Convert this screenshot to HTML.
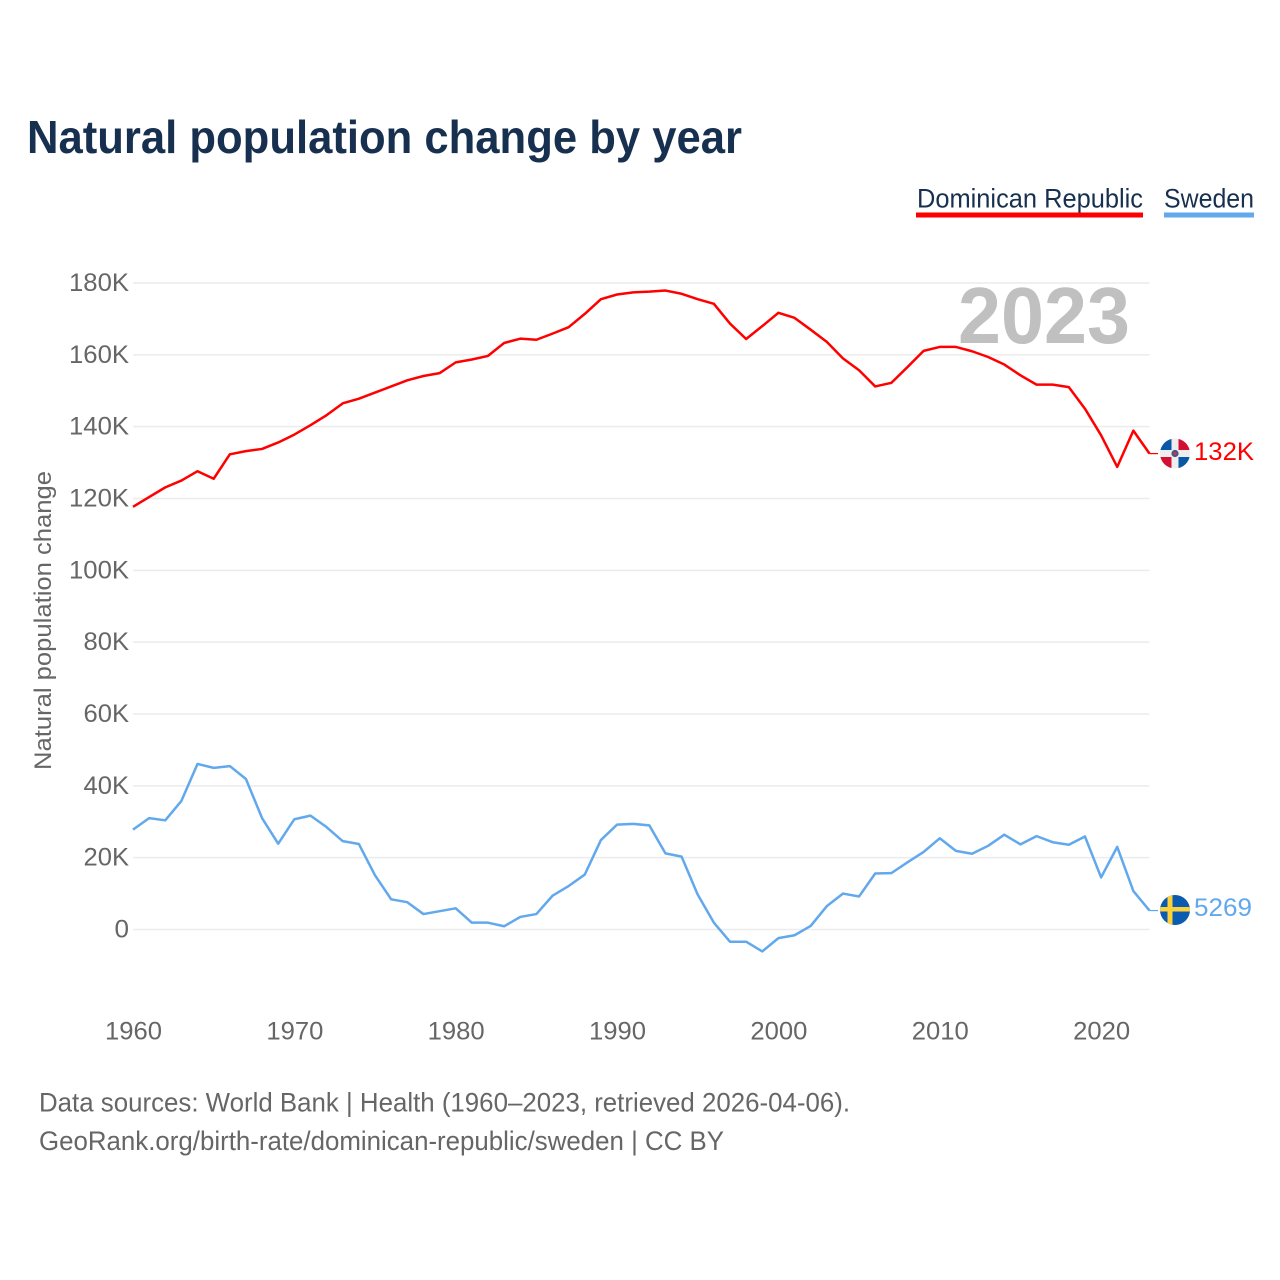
<!DOCTYPE html>
<html lang="en">
<head>
<meta charset="utf-8">
<title>Natural population change by year</title>
<style>
html,body{margin:0;padding:0;background:#fff;width:1280px;height:1280px;overflow:hidden}
svg{display:block}
text{font-family:"Liberation Sans",sans-serif}
</style>
</head>
<body>
<svg id="chart" xmlns="http://www.w3.org/2000/svg" width="1280" height="1280" viewBox="0 0 1280 1280">
  <rect width="1280" height="1280" fill="#fff"/>
  <text x="27" y="153" font-size="46" font-weight="700" fill="#18304f" textLength="715" lengthAdjust="spacingAndGlyphs">Natural population change by year</text>

  <g>
    <text x="917" y="207.5" font-size="27" fill="#18304f" textLength="226" lengthAdjust="spacingAndGlyphs">Dominican Republic</text>
    <rect x="916" y="212.5" width="227" height="5" fill="#ff0000"/>
  </g>
  <g>
    <text x="1164" y="207.5" font-size="27" fill="#18304f" textLength="90" lengthAdjust="spacingAndGlyphs">Sweden</text>
    <rect x="1164" y="212.5" width="90" height="5" fill="#62a8ed"/>
  </g>

  <g id="grid"></g>
  <g id="yticks"></g>
  <g id="xticks"></g>

  <text x="1044" y="343" font-size="80" font-weight="700" fill="#c0c0c0" text-anchor="middle" textLength="172" lengthAdjust="spacingAndGlyphs">2023</text>

  <text transform="translate(51,770) rotate(-90)" x="0" y="0" font-size="24.5" fill="#666" textLength="299" lengthAdjust="spacingAndGlyphs">Natural population change</text>

  <g id="series"></g>

  <defs>
    <clipPath id="flag-clip-do"><circle cx="1175" cy="453.5" r="15"/></clipPath>
    <clipPath id="flag-clip-se"><circle cx="1175" cy="910" r="15"/></clipPath>
  </defs>
  <g clip-path="url(#flag-clip-do)">
    <rect x="1160" y="438.5" width="30" height="30" fill="#eeeeee"/>
    <rect x="1160" y="438.5" width="11.5" height="11.5" fill="#0a57a8"/>
    <rect x="1178.5" y="438.5" width="11.5" height="11.5" fill="#d21034"/>
    <rect x="1160" y="457" width="11.5" height="11.5" fill="#d21034"/>
    <rect x="1178.5" y="457" width="11.5" height="11.5" fill="#0a57a8"/>
    <circle cx="1175" cy="453.5" r="3.6" fill="#3a5a8c"/>
    <circle cx="1175" cy="453.5" r="1.8" fill="#c23a4a"/>
  </g>
  <g clip-path="url(#flag-clip-se)">
    <rect x="1160" y="895" width="30" height="30" fill="#0b5cb0"/>
    <rect x="1167.5" y="895" width="5" height="30" fill="#fdd13a"/>
    <rect x="1160" y="907" width="30" height="4.5" fill="#fdd13a"/>
  </g>
  <text x="1194" y="460" font-size="25" fill="#ff0000" textLength="60" lengthAdjust="spacingAndGlyphs">132K</text>
  <text x="1194" y="916" font-size="25" fill="#62a8ed" textLength="58" lengthAdjust="spacingAndGlyphs">5269</text>

  <text x="39" y="1111.5" font-size="26.5" fill="#666" textLength="811" lengthAdjust="spacingAndGlyphs">Data sources: World Bank | Health (1960–2023, retrieved 2026-04-06).</text>
  <text x="39" y="1150" font-size="26.5" fill="#666" textLength="685" lengthAdjust="spacingAndGlyphs">GeoRank.org/birth-rate/dominican-republic/sweden | CC BY</text>
</svg>
<script>
const firstYear = 1960;
const lastYear = 2023;
const xTickYears = [1960, 1970, 1980, 1990, 2000, 2010, 2020];
const yTickValues = [0, 20, 40, 60, 80, 100, 120, 140, 160, 180];
const yTickLabels = ['0', '20K', '40K', '60K', '80K', '100K', '120K', '140K', '160K', '180K'];
// thousands of people, 1960..2023
const dominicanRepublic = [117.7,120.4,123.1,125.0,127.6,125.5,132.3,133.2,133.8,135.6,137.8,140.4,143.2,146.5,147.8,149.5,151.2,152.9,154.1,154.9,157.9,158.7,159.7,163.3,164.5,164.2,165.9,167.7,171.4,175.5,176.8,177.4,177.6,177.9,177.0,175.5,174.2,168.7,164.4,168.0,171.7,170.3,167.0,163.6,159.0,155.7,151.2,152.2,156.6,161.1,162.2,162.2,161.0,159.4,157.3,154.3,151.7,151.7,151.0,145.0,137.6,128.8,138.9,132.5];
const sweden = [27.8,31.0,30.4,35.8,46.1,45.0,45.5,41.9,31.0,23.9,30.7,31.7,28.5,24.6,23.8,15.1,8.4,7.6,4.3,5.1,5.9,1.9,1.9,0.9,3.5,4.3,9.4,12.1,15.3,24.9,29.2,29.4,29.0,21.2,20.3,9.7,1.9,-3.4,-3.4,-6.1,-2.4,-1.6,1.0,6.5,10.0,9.2,15.6,15.7,18.7,21.6,25.4,21.9,21.1,23.3,26.4,23.7,26.0,24.3,23.6,25.9,14.5,23.0,10.7,5.269];

const NS = 'http://www.w3.org/2000/svg';
const plotLeft = 133;
const plotRight = 1149.5;
const zeroY = 929.5;
const topY = 283;
const topValue = 180;

function xScale(year) {
  return plotLeft + (year - firstYear) * (plotRight - plotLeft) / (lastYear - firstYear);
}
function yScale(value) {
  return zeroY - value * (zeroY - topY) / topValue;
}
function make(tag, parent, attrs) {
  const el = document.createElementNS(NS, tag);
  for (const k in attrs) el.setAttribute(k, attrs[k]);
  parent.appendChild(el);
  return el;
}

const grid = document.getElementById('grid');
const yticks = document.getElementById('yticks');
const xticks = document.getElementById('xticks');
const seriesGroup = document.getElementById('series');

yTickValues.forEach(function (v, i) {
  const line = make('line', grid, {x1: plotLeft, x2: plotRight, y1: yScale(v), y2: yScale(v), stroke: '#ececec', 'stroke-width': 1.5});
  
  
  const label = make('text', yticks, {x: 129, y: yScale(v) + 8, 'font-size': 25, fill: '#666', 'text-anchor': 'end'});
  
  
  label.textContent = yTickLabels[i];
  const digits = yTickLabels[i].replace('K', '').length;
  const width = digits * 14.5 + (yTickLabels[i].indexOf('K') >= 0 ? 16.5 : 0);
  label.setAttribute('textLength', width);
  label.setAttribute('lengthAdjust', 'spacingAndGlyphs');
});

xTickYears.forEach(function (year) {
  const label = make('text', xticks, {x: xScale(year) + 0.5, y: 1039.5, 'font-size': 25, fill: '#666', 'text-anchor': 'middle', textLength: 57, lengthAdjust: 'spacingAndGlyphs'});
  
  
  label.textContent = year;
});

function drawSeries(values, color, name) {
  const pts = values.map(function (v, i) {
    return xScale(firstYear + i).toFixed(2) + ',' + yScale(v).toFixed(2);
  });
  const line = make('polyline', seriesGroup, {points: pts.join(' '), fill: 'none', stroke: color, 'stroke-width': 2.5, 'stroke-linejoin': 'round'});
  
  
  const lastValue = values[values.length - 1];
  const connector = make('line', seriesGroup, {x1: xScale(lastYear), x2: 1158, y1: yScale(lastValue), y2: yScale(lastValue), stroke: color, 'stroke-width': 1.2});
  
  
}
drawSeries(sweden, '#62a8ed', 'line-sweden');
drawSeries(dominicanRepublic, '#ff0000', 'line-dominican-republic');
</script>
</body>
</html>
